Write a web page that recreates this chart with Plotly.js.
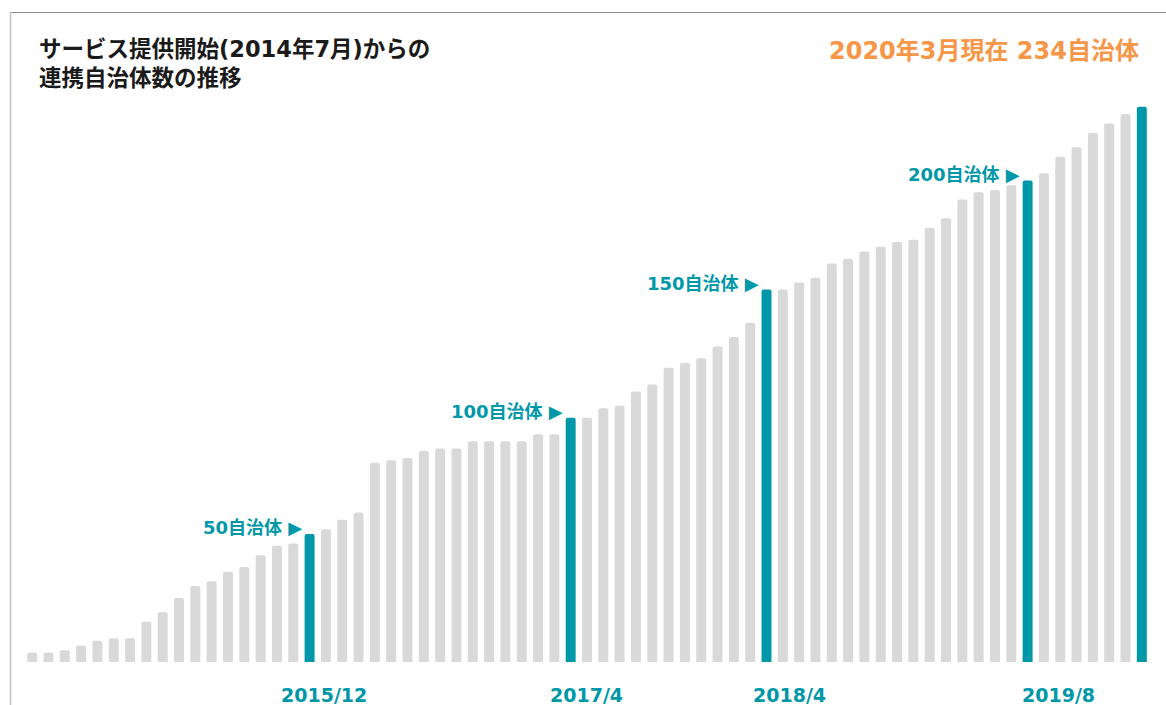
<!DOCTYPE html>
<html>
<head>
<meta charset="utf-8">
<script src="https://cdn.plot.ly/plotly-3.0.1.min.js"></script>
<style>
html,body{margin:0;padding:0;background:#fff;}
#chart{width:1166px;height:705px;}
</style>
</head>
<body>
<div id="chart"></div>
<script>
const months = [
  '2014/7','2014/8','2014/9','2014/10','2014/11','2014/12',
  '2015/1','2015/2','2015/3','2015/4','2015/5','2015/6','2015/7','2015/8','2015/9','2015/10','2015/11','2015/12',
  '2016/1','2016/2','2016/3','2016/4','2016/5','2016/6','2016/7','2016/8','2016/9','2016/10','2016/11','2016/12',
  '2017/1','2017/2','2017/3','2017/4','2017/5','2017/6','2017/7','2017/8','2017/9','2017/10','2017/11','2017/12',
  '2018/1','2018/2','2018/3','2018/4','2018/5','2018/6','2018/7','2018/8','2018/9','2018/10','2018/11','2018/12',
  '2019/1','2019/2','2019/3','2019/4','2019/5','2019/6','2019/7','2019/8','2019/9','2019/10','2019/11','2019/12',
  '2020/1','2020/2','2020/3'
];
const counts = [
  4,4,5,7,9,10,
  10,17,21,27,32,34,38,40,45,49,50,54,
  56,60,63,84,85,86,89,90,90,93,93,93,
  93,96,96,103,103,107,108,114,117,124,126,128,
  133,137,143,157,157,160,162,168,170,173,175,177,
  178,183,187,195,198,199,201,203,206,213,217,223,
  227,231,234
];
const highlightMonths = ['2015/12','2017/4','2018/4','2019/8','2020/3'];
const milestoneMonths = ['2015/12','2017/4','2018/4','2019/8'];
const milestoneLabels = ['50自治体 ▶','100自治体 ▶','150自治体 ▶','200自治体 ▶'];
const axisLabelMonths = ['2015/12','2017/4','2018/4','2019/8'];
const titleLines = ['サービス提供開始(2014年7月)からの', '連携自治体数の推移'];
const currentLabel = '2020年3月現在 234自治体';

// styling
const TEAL = '#0098A9', GRAY = '#D9D9D9', ORANGE = '#F79646';
const FONT = 'DejaVu Sans, Noto Sans CJK JP, sans-serif';
const W = 1166, H = 705, ML = 24, MR = 16, MT = 95, MB = 43;
const PW = W - ML - MR, PH = H - MT - MB;
const px = x => (x - ML) / PW;
const py = y => (H - MB - y) / PH;
const axisLabelShift = [14, 16, 23, 31];

const colors = months.map(m => highlightMonths.includes(m) ? TEAL : GRAY);

const trace = {
  type: 'bar',
  x: months,
  y: counts,
  marker: {color: colors, cornerradius: 2, line: {width: 0}},
  hoverinfo: 'x+y'
};

const annotations = [];
milestoneMonths.forEach((m, i) => {
  annotations.push({
    x: m, y: counts[months.indexOf(m)], xref: 'x', yref: 'y',
    text: milestoneLabels[i], showarrow: false,
    xanchor: 'right', yanchor: 'middle', xshift: -6, yshift: 6,
    font: {family: FONT, size: 18, color: TEAL, weight: 700}
  });
});
axisLabelMonths.forEach((m, i) => {
  annotations.push({
    x: m, y: py(695), xref: 'x', yref: 'paper',
    text: m, showarrow: false,
    xanchor: 'center', yanchor: 'middle', xshift: axisLabelShift[i],
    font: {family: FONT, size: 19, color: TEAL, weight: 700}
  });
});
annotations.push({
  x: px(37), y: py(63.5), xref: 'paper', yref: 'paper',
  text: titleLines.join('<br>'), showarrow: false, xanchor: 'left', yanchor: 'middle', align: 'left',
  font: {family: FONT, size: 22.5, color: '#1a1a1a', weight: 700}
});
annotations.push({
  x: px(1141), y: py(51), xref: 'paper', yref: 'paper',
  text: currentLabel, showarrow: false, xanchor: 'right', yanchor: 'middle',
  font: {family: FONT, size: 24, color: ORANGE, weight: 700}
});

const shapes = [
  {type: 'line', xref: 'paper', yref: 'paper', x0: px(10), x1: px(1170), y0: py(12.5), y1: py(12.5),
   line: {color: '#8c8c8c', width: 1}},
  {type: 'line', xref: 'paper', yref: 'paper', x0: px(10.5), x1: px(10.5), y0: py(12), y1: py(710),
   line: {color: '#c0c0c0', width: 1.5}}
];

const layout = {
  width: W, height: H,
  margin: {l: ML, r: MR, t: MT, b: MB, pad: 0},
  paper_bgcolor: '#fff', plot_bgcolor: '#fff',
  bargap: 0.39,
  showlegend: false,
  xaxis: {type: 'category', showticklabels: false, showgrid: false, zeroline: false, showline: false, ticks: ''},
  yaxis: {range: [0, 239], visible: false, showgrid: false, zeroline: false},
  annotations: annotations,
  shapes: shapes,
  font: {family: FONT}
};

Plotly.newPlot('chart', [trace], layout, {displayModeBar: false, staticPlot: true});
</script>
</body>
</html>
